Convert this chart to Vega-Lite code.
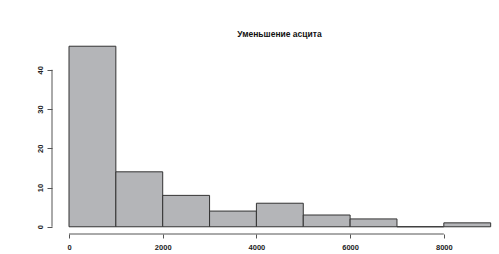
{
  "$schema": "https://vega.github.io/schema/vega-lite/v6.json",
  "width": 445,
  "height": 195,
  "autosize": {"type": "none"},
  "padding": {"left": 52, "top": 39, "right": 2, "bottom": 20},
  "background": "white",
  "title": {
    "text": "Уменьшение асцита",
    "font": "Liberation Sans",
    "fontSize": 8.5,
    "fontWeight": "bold",
    "color": "#111111",
    "baseline": "alphabetic",
    "offset": -6,
    "dx": 5
  },
  "config": {"view": {"stroke": null}},
  "data": {
    "values": [
      {"start": 0, "end": 1000, "count": 46},
      {"start": 1000, "end": 2000, "count": 14},
      {"start": 2000, "end": 3000, "count": 8},
      {"start": 3000, "end": 4000, "count": 4},
      {"start": 4000, "end": 5000, "count": 6},
      {"start": 5000, "end": 6000, "count": 3},
      {"start": 6000, "end": 7000, "count": 2},
      {"start": 7000, "end": 8000, "count": 0},
      {"start": 8000, "end": 9000, "count": 1}
    ]
  },
  "layer": [
    {
      "mark": {"type": "bar", "fill": "#b4b5b8", "stroke": "#333333", "strokeWidth": 1},
      "encoding": {
        "x": {
          "field": "start",
          "type": "quantitative",
          "scale": {"domain": [-363, 9135], "nice": false, "zero": false},
          "axis": {
            "title": null,
            "grid": false,
            "domain": false,
            "values": [0, 2000, 4000, 6000, 8000],
            "format": "d",
            "tickSize": 4,
            "tickColor": "#555555",
            "labelFont": "Liberation Sans",
            "labelFontSize": 7.5,
            "labelFontWeight": "bold",
            "labelColor": "#222222",
            "labelPadding": 5
          }
        },
        "x2": {"field": "end"},
        "y": {
          "field": "count",
          "type": "quantitative",
          "scale": {"domain": [-1.84, 47.84], "nice": false, "zero": false},
          "axis": {
            "title": null,
            "grid": false,
            "domain": false,
            "values": [0, 10, 20, 30, 40],
            "tickSize": 5,
            "tickColor": "#555555",
            "labelFont": "Liberation Sans",
            "labelFontSize": 7.5,
            "labelFontWeight": "bold",
            "labelColor": "#222222",
            "labelAngle": -90,
            "labelAlign": "center",
            "labelBaseline": "bottom",
            "labelPadding": 3
          }
        },
        "y2": {"datum": 0}
      }
    },
    {
      "data": {"values": [{}]},
      "mark": {"type": "rule", "color": "#555555", "strokeWidth": 1},
      "encoding": {
        "x": {"datum": 0, "type": "quantitative"},
        "x2": {"datum": 8000},
        "y": {"datum": -1.84, "type": "quantitative"}
      }
    },
    {
      "data": {"values": [{}]},
      "mark": {"type": "rule", "color": "#555555", "strokeWidth": 1},
      "encoding": {
        "x": {"datum": -363, "type": "quantitative"},
        "y": {"datum": 0, "type": "quantitative"},
        "y2": {"datum": 40}
      }
    }
  ]
}
